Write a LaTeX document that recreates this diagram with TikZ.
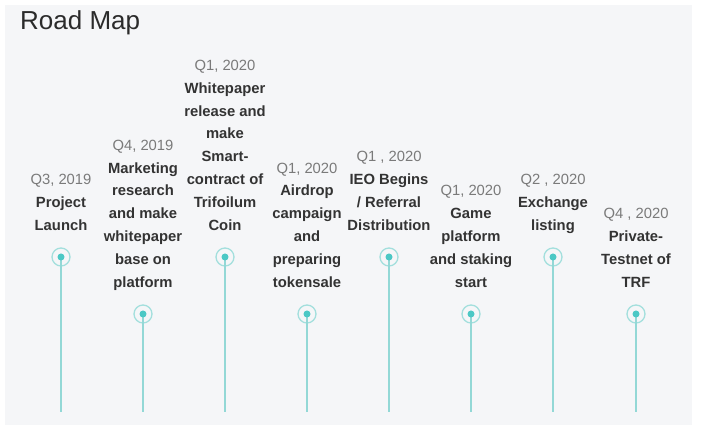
\documentclass[tikz,border=0pt]{standalone}
\usepackage{fontspec}
\setmainfont{Liberation Sans}
\usetikzlibrary{positioning}
\definecolor{panelgray}{HTML}{F5F6F8}
\definecolor{ringteal}{HTML}{A3DFDD}
\definecolor{dotteal}{HTML}{4CC8C5}
\definecolor{stemteal}{HTML}{93D8D6}
\definecolor{titlegray}{HTML}{2B2B2B}
\definecolor{dategray}{HTML}{7A7A7A}
\definecolor{bodygray}{HTML}{333333}
\newcommand{\qdate}[1]{{\mdseries\color{dategray}#1}}
\begin{document}
\begin{tikzpicture}[x=1pt,y=1pt,
	ring/.style={circle, draw=ringteal, line width=1.3pt, minimum size=18pt, inner sep=0pt},
	dot/.style={circle, fill=dotteal, minimum size=7pt, inner sep=0pt},
	stem/.style={draw=stemteal, line width=1.2pt},
	milestone/.style={align=center, font=\fontsize{14.8}{22.8}\selectfont\bfseries,
		text=bodygray, inner sep=0pt, text depth=0pt}]
	
	\fill[white] (0,0) rectangle (710,430);
	\useasboundingbox (0,0) rectangle (710,430);
	\fill[panelgray] (5,5) rectangle (692,425);
	\node[anchor=base west, inner sep=0pt, text=titlegray,
		font=\fontsize{26}{30}\selectfont] (title) at (20,400) {Road Map};
	
	\node[ring] (c1) at (61,173) {};
	\node[ring] (c2) at (143,116) {};
	\node[ring] (c3) at (225,173) {};
	\node[ring] (c4) at (307,116) {};
	\node[ring] (c5) at (389,173) {};
	\node[ring] (c6) at (471,116) {};
	\node[ring] (c7) at (553,173) {};
	\node[ring] (c8) at (636,116) {};
	
	\foreach \i/\x in {1/61,2/143,3/225,4/307,5/389,6/471,7/553,8/636}{
		\coordinate (e\i) at (\x,18);
		\draw[stem] (c\i.center) -- (e\i);
		\node[dot] (d\i) at (c\i) {};
	}
	
	\node[milestone, above=17pt of c1] (m1) {\qdate{Q3, 2019}\\Project\\Launch};
	\node[milestone, above=17pt of c2] (m2) {\qdate{Q4, 2019}\\Marketing\\research\\and make\\whitepaper\\base on\\platform};
	\node[milestone, above=17pt of c3] (m3) {\qdate{Q1, 2020}\\Whitepaper\\release and\\make\\Smart-\\contract of\\Trifoilum\\Coin};
	\node[milestone, above=17pt of c4] (m4) {\qdate{Q1, 2020}\\Airdrop\\campaign\\and\\preparing\\tokensale};
	\node[milestone, above=17pt of c5] (m5) {\qdate{Q1 , 2020}\\IEO Begins\\/ Referral\\Distribution};
	\node[milestone, above=17pt of c6] (m6) {\qdate{Q1, 2020}\\Game\\platform\\and staking\\start};
	\node[milestone, above=17pt of c7] (m7) {\qdate{Q2 , 2020}\\Exchange\\listing};
	\node[milestone, above=17pt of c8] (m8) {\qdate{Q4 , 2020}\\Private-\\Testnet of\\TRF};
\end{tikzpicture}
\end{document}
